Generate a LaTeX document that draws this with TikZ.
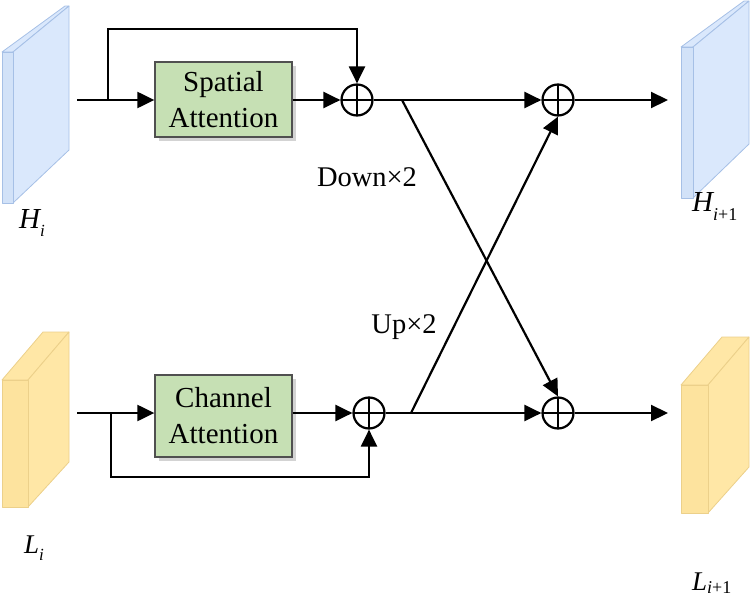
\documentclass[tikz,border=0pt]{standalone}
\usepackage{fontspec}
\setmainfont{Liberation Serif}
\usetikzlibrary{arrows.meta,shadows,calc}
\definecolor{boxgreen}{HTML}{C6E0B4}
\definecolor{boxedge}{HTML}{505050}
\definecolor{bluefront}{HTML}{D2E2F8}
\definecolor{blueside}{HTML}{DAE8FC}
\definecolor{blueedge}{HTML}{A6C0E6}
\definecolor{yelfront}{HTML}{FDE39E}
\definecolor{yelside}{HTML}{FFE7A6}
\definecolor{yeledge}{HTML}{ECD08A}
\tikzset{
  wire/.style={line width=2.2pt, draw=black},
  arr/.style={wire, -{Triangle[length=17pt,width=16pt]}},
  attbox/.style={draw=boxedge, line width=1.3pt, fill=boxgreen, align=center,
    font=\fontsize{29}{36}\selectfont, inner sep=0pt,
    drop shadow={opacity=0.35, shadow xshift=4pt, shadow yshift=-4pt}},
  oplus/.style={circle, draw, line width=2.2pt, minimum size=31pt, inner sep=0pt,
    path picture={\draw[line width=2.2pt] (path picture bounding box.north) -- (path picture bounding box.south)
      (path picture bounding box.west) -- (path picture bounding box.east);}},
  lbl/.style={font=\fontsize{28.5}{28.5}\selectfont, inner sep=0pt},
  bluef/.style={fill=bluefront, draw=blueedge, line width=0.8pt, line join=round},
  blues/.style={fill=blueside, draw=blueedge, line width=0.8pt, line join=round},
  yelf/.style={fill=yelfront, draw=yeledge, line width=0.8pt, line join=round},
  yels/.style={fill=yelside, draw=yeledge, line width=0.8pt, line join=round},
  maplbl/.style={anchor=base west, inner sep=0pt}
}
\newcommand{\bigH}{{\fontsize{29}{29}\selectfont\itshape H}}
\newcommand{\bigL}{{\fontsize{27}{27}\selectfont\itshape L}}
\begin{document}
\begin{tikzpicture}[x=1pt,y=-1pt]
\useasboundingbox (0,0) rectangle (750,597);

% ---- feature blocks ----
% H_i
\draw[blues] (2,52) -- (65,6) -- (69,6) -- (13,52) -- cycle;
\draw[blues] (13,52) -- (69,6) -- (69,150) -- (13,203) -- cycle;
\node[bluef, anchor=north west, minimum width=11pt, minimum height=151pt, inner sep=0pt] (Hi) at (2,52) {};
% H_{i+1}
\draw[blues] (681,47) -- (744,1) -- (749,1) -- (693,47) -- cycle;
\draw[blues] (693,47) -- (749,1) -- (749,144) -- (693,198) -- cycle;
\node[bluef, anchor=north west, minimum width=12pt, minimum height=151pt, inner sep=0pt] (Ho) at (681,47) {};
% L_i
\draw[yels] (2,380) -- (43,332) -- (69,332) -- (28,380) -- cycle;
\draw[yels] (28,380) -- (69,332) -- (69,462) -- (28,507) -- cycle;
\node[yelf, anchor=north west, minimum width=26pt, minimum height=127pt, inner sep=0pt] (Li) at (2,380) {};
% L_{i+1}
\draw[yels] (681,385) -- (722,337) -- (749,337) -- (708,385) -- cycle;
\draw[yels] (708,385) -- (749,337) -- (749,467) -- (708,513) -- cycle;
\node[yelf, anchor=north west, minimum width=27pt, minimum height=128pt, inner sep=0pt] (Lo) at (681,385) {};

% ---- block labels ----
\node[maplbl] (tHi) at (19,228) {\bigH\raisebox{-8pt}{\fontsize{17}{17}\selectfont\itshape i}};
\node[maplbl] (tLi) at (24,553) {\bigL\raisebox{-7pt}{\fontsize{17}{17}\selectfont\itshape i}};
\node[maplbl] (tHo) at (692,211) {\bigH\raisebox{-9pt}{\fontsize{18}{18}\selectfont\itshape i\upshape +1}};
\node[maplbl] (tLo) at (692,590) {\bigL\raisebox{-3pt}{\fontsize{18}{18}\selectfont\itshape i\upshape +1}};

% ---- attention boxes ----
\node[attbox, minimum width=137pt, minimum height=75pt] (sa) at (223.5,99.5) {Spatial\\Attention};
\node[attbox, minimum width=137pt, minimum height=82pt] (ca) at (223.5,416) {Channel\\Attention};

% ---- adders ----
\node[oplus] (c1) at (357,100) {};
\node[oplus] (c2) at (558,100) {};
\node[oplus] (c3) at (369,413) {};
\node[oplus] (c4) at (558,413) {};

% ---- coordinates ----
\coordinate (tin) at (77,100);
\coordinate (tbr) at (108,100);
\coordinate (bin) at (77,413);
\coordinate (bbr) at (111,413);
\coordinate (dstart) at (402,100);
\coordinate (ustart) at (411,413);
\coordinate (tout) at (668,100);
\coordinate (bout) at (668,413);

% ---- top path ----
\draw[arr] (tin) -- (sa.west |- tin);
\draw[arr] (tbr) -- (108,29) -- (c1.north |- 0,29) -- (c1.north);
\draw[arr] (sa.east |- c1) -- (c1.west);
\draw[arr] (c1.east) -- (c2.west);
\draw[arr] (c2.east) -- (tout);

% ---- bottom path ----
\draw[arr] (bin) -- (ca.west |- bin);
\draw[arr] (bbr) -- (111,477) -- (c3.south |- 0,477) -- (c3.south);
\draw[arr] (ca.east |- c3) -- (c3.west);
\draw[arr] (c3.east) -- (c4.west);
\draw[arr] (c4.east) -- (bout);

% ---- cross paths ----
\draw[arr] (dstart) -- (c4.north);
\draw[arr] (ustart) -- (c2.south);

\node[lbl] (down) at (367,177) {Down×2};
\node[lbl] (up) at (404,327) {Up×2};
\end{tikzpicture}
\end{document}
